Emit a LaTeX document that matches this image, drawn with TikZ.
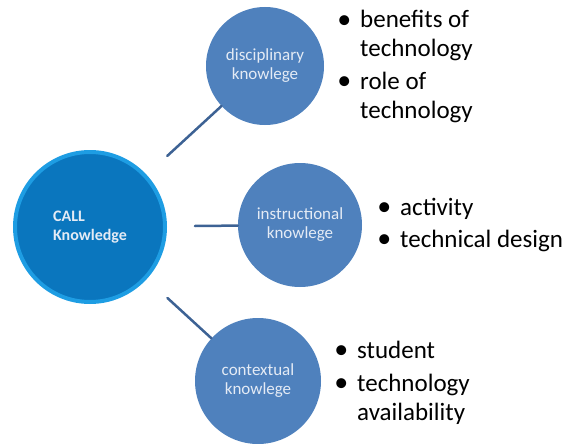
\documentclass[tikz,border=0pt]{standalone}
\usepackage{fontspec}
\setmainfont{Carlito}
\usepackage{pgf,tikz}
\usetikzlibrary{arrows}
\definecolor{callblue}{HTML}{0A76BE}
\definecolor{callrim}{HTML}{1E9DE3}
\definecolor{kblue}{HTML}{4F81BD}
\definecolor{linkblue}{HTML}{3D6294}
\definecolor{ktext}{HTML}{E4EBF5}
\tikzset{
  knode/.style={circle,fill=kblue,inner sep=0pt,text=ktext,align=center,font=\fontsize{17}{19}\selectfont},
  link/.style={draw=linkblue,line width=2.5pt,shorten <=28pt},
  bitem/.style={anchor=base west,inner sep=0pt,align=left,font=\fontsize{25}{29}\selectfont}
}
\newcommand{\bul}{\llap{\raisebox{-0.03em}{\scalebox{1.12}{\textbullet}}\hspace{9pt}}}

\begin{document}
\begin{tikzpicture}[line cap=round,line join=round,x=1pt,y=-1pt]
\useasboundingbox (0,0) rectangle (565,444);
\node[circle,fill=callblue,draw=callrim,line width=4pt,minimum size=150pt,inner sep=0pt,text=ktext,align=left,font=\bfseries\fontsize{16}{19}\selectfont] (call) at (90,227) {CALL\\Knowledge};
\node[knode,minimum size=118pt] (disc) at (265,66) {disciplinary\\knowlege};
\node[knode,minimum size=124pt] (instr) at (300,225) {instructional\\knowlege};
\node[knode,minimum size=126pt] (ctx) at (258,381) {contextual\\knowlege};
\draw[link] (call) -- (disc);
\draw[link] (call) -- (instr);
\draw[link] (call) -- (ctx);
% last line baselines
\draw (360,57) node[bitem] (benefit) {\bul benefits of\\technology};
\draw (360,118) node[bitem] (role) {\bul role of\\technology};
\draw (400,215) node[bitem] (activity) {\bul activity};
\draw (400,247) node[bitem] (design) {\bul technical design};
\draw (357,358) node[bitem] (student) {\bul student};
\draw (357,420) node[bitem] (avail) {\bul technology\\availability};
\end{tikzpicture}
\end{document}
